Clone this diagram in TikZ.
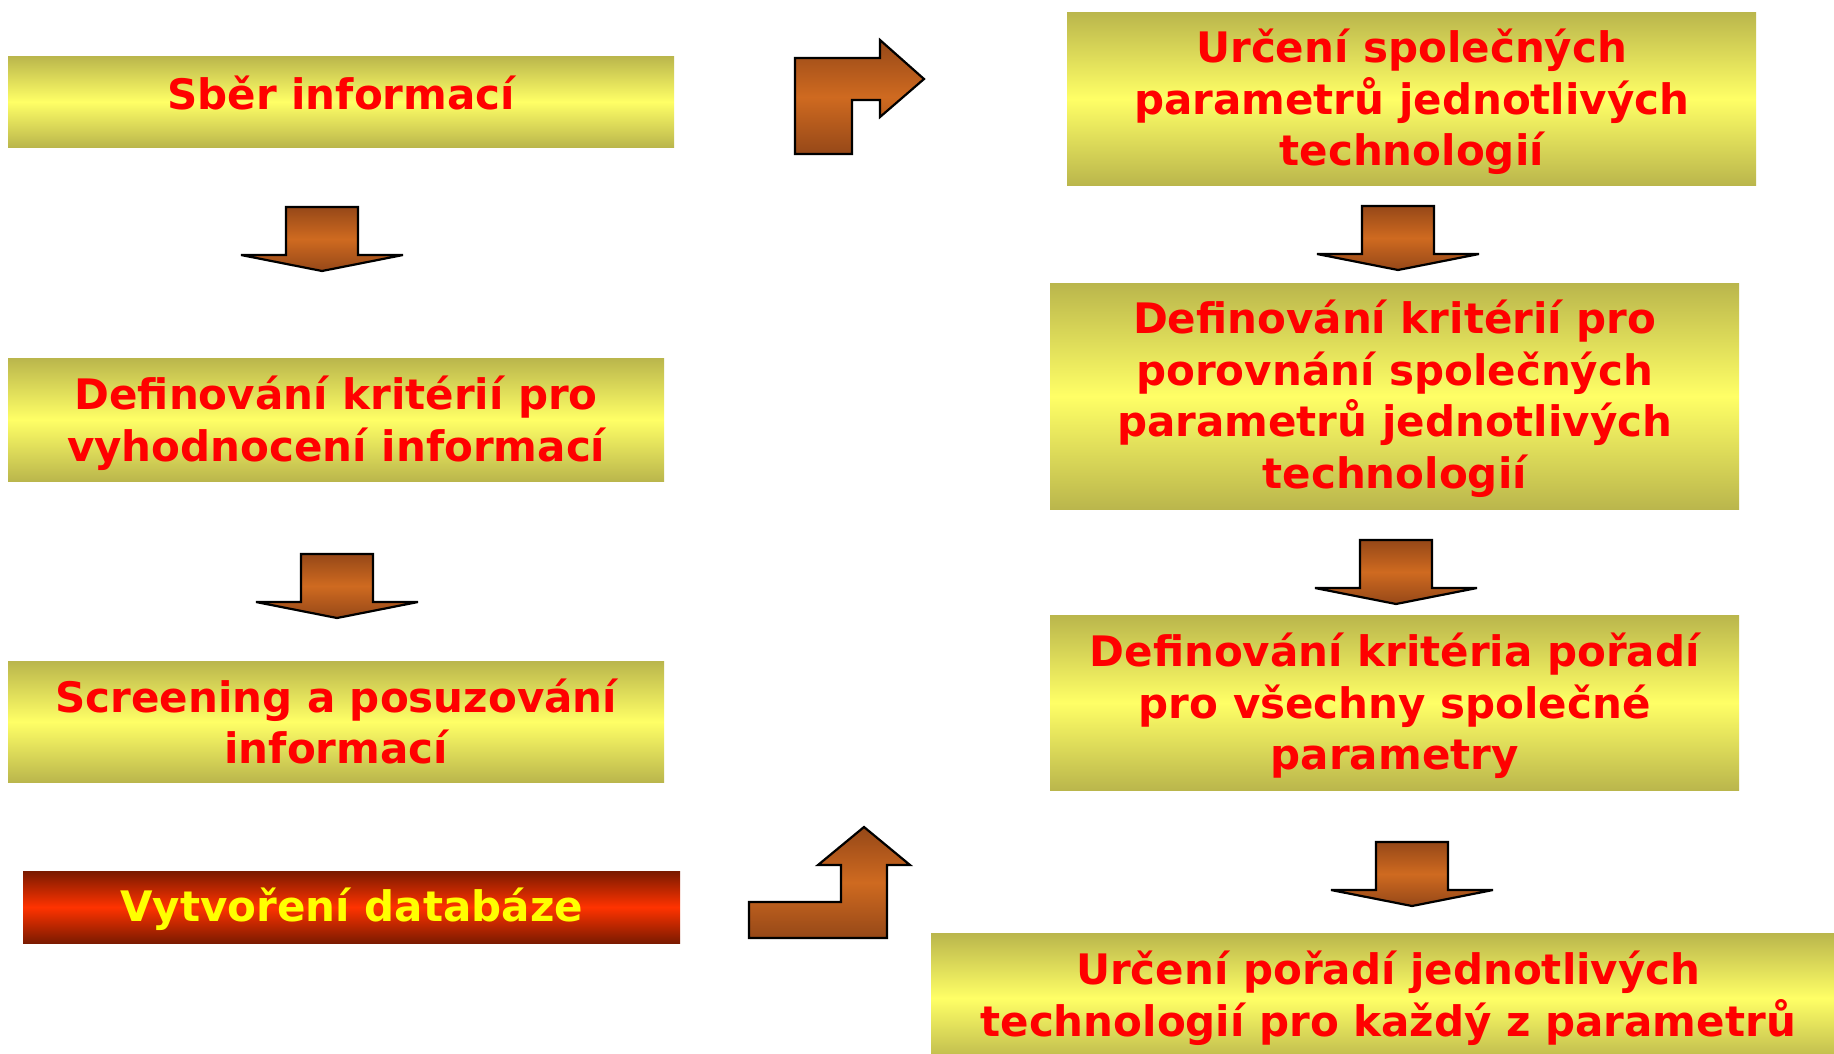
\documentclass[tikz,border=0pt]{standalone}
\usepackage{fontspec}
\setmainfont{DejaVu Sans}
\definecolor{boxedge}{RGB}{186,182,76}
\definecolor{boxmid}{RGB}{255,255,102}
\definecolor{redge}{RGB}{122,26,0}
\definecolor{rmid}{RGB}{255,51,0}
\definecolor{aedge}{RGB}{150,72,24}
\definecolor{amid}{RGB}{207,106,32}
\definecolor{txtred}{RGB}{255,0,0}
\definecolor{txtyel}{RGB}{255,255,0}
\tikzset{
  ybox/.style={rectangle, anchor=north west, inner sep=0pt,
    top color=boxedge, bottom color=boxedge, middle color=boxmid},
  rbox/.style={ybox, top color=redge, bottom color=redge, middle color=rmid},
  ytext/.style={inner sep=0pt, align=center, text=txtred,
    font=\bfseries\fontsize{42}{51.5}\selectfont},
  rtext/.style={ytext, text=txtyel},
  blockarrow/.style={draw=black, line width=2.2pt, line join=miter,
    top color=aedge, bottom color=aedge, middle color=amid},
  downarr/.pic={\path[blockarrow] (-36,0) -- (36,0) -- (36,48) -- (81,48) -- (0,64) -- (-81,48) -- (-36,48) -- cycle;}
}
\begin{document}
\begin{tikzpicture}[x=1pt,y=-1pt]
\useasboundingbox[fill=white] (0,0) rectangle (1834,1053);
\clip (0,0) rectangle (1834,1053);
% left column
\node[ybox, minimum width=666, minimum height=91] (b1) at (8,56) {};
\node[ytext, yshift=9pt] (t1) at (b1.center) {Sběr informací};
\node[ybox, minimum width=656, minimum height=123] (b2) at (8,358) {};
\node[ytext, yshift=-3.5pt] (t2) at (b2.center) {Definování kritérií pro\\vyhodnocení informací};
\node[ybox, minimum width=656, minimum height=121] (b3) at (8,661) {};
\node[ytext] (t3) at (b3.center) {Screening a posuzování\\informací};
\node[rbox, minimum width=657, minimum height=72] (b4) at (23,871) {};
\node[rtext, yshift=-2pt] (t4) at (b4.center) {Vytvoření databáze};
% right column
\node[ybox, minimum width=689, minimum height=173] (r1) at (1067,12) {};
\node[ytext, yshift=-3.5pt] (s1) at (r1.center) {Určení společných\\parametrů jednotlivých\\technologií};
\node[ybox, minimum width=689, minimum height=226] (r2) at (1050,283) {};
\node[ytext, yshift=-2.5pt] (s2) at (r2.center) {Definování kritérií pro\\porovnání společných\\parametrů jednotlivých\\technologií};
\node[ybox, minimum width=689, minimum height=175] (r3) at (1050,615) {};
\node[ytext, yshift=-3.5pt] (s3) at (r3.center) {Definování kritéria pořadí\\pro všechny společné\\parametry};
\node[ybox, minimum width=914, minimum height=130] (r4) at (931,933) {};
\node[ytext] (s4) at (r4.center) {Určení pořadí jednotlivých\\technologií pro každý z parametrů};
% down arrows
\pic at (322,207) {downarr};
\pic at (337,554) {downarr};
\pic at (1398,206) {downarr};
\pic at (1396,540) {downarr};
\pic at (1412,842) {downarr};
% bent arrows
\path[blockarrow] (795,154) -- (795,58) -- (880,58) -- (880,40) -- (924,79) -- (880,117) -- (880,100) -- (852,100) -- (852,154) -- cycle;
\path[blockarrow] (749,902) -- (841,902) -- (841,865) -- (818,865) -- (864,827) -- (910,865) -- (887,865) -- (887,938) -- (749,938) -- cycle;
\end{tikzpicture}
\end{document}
